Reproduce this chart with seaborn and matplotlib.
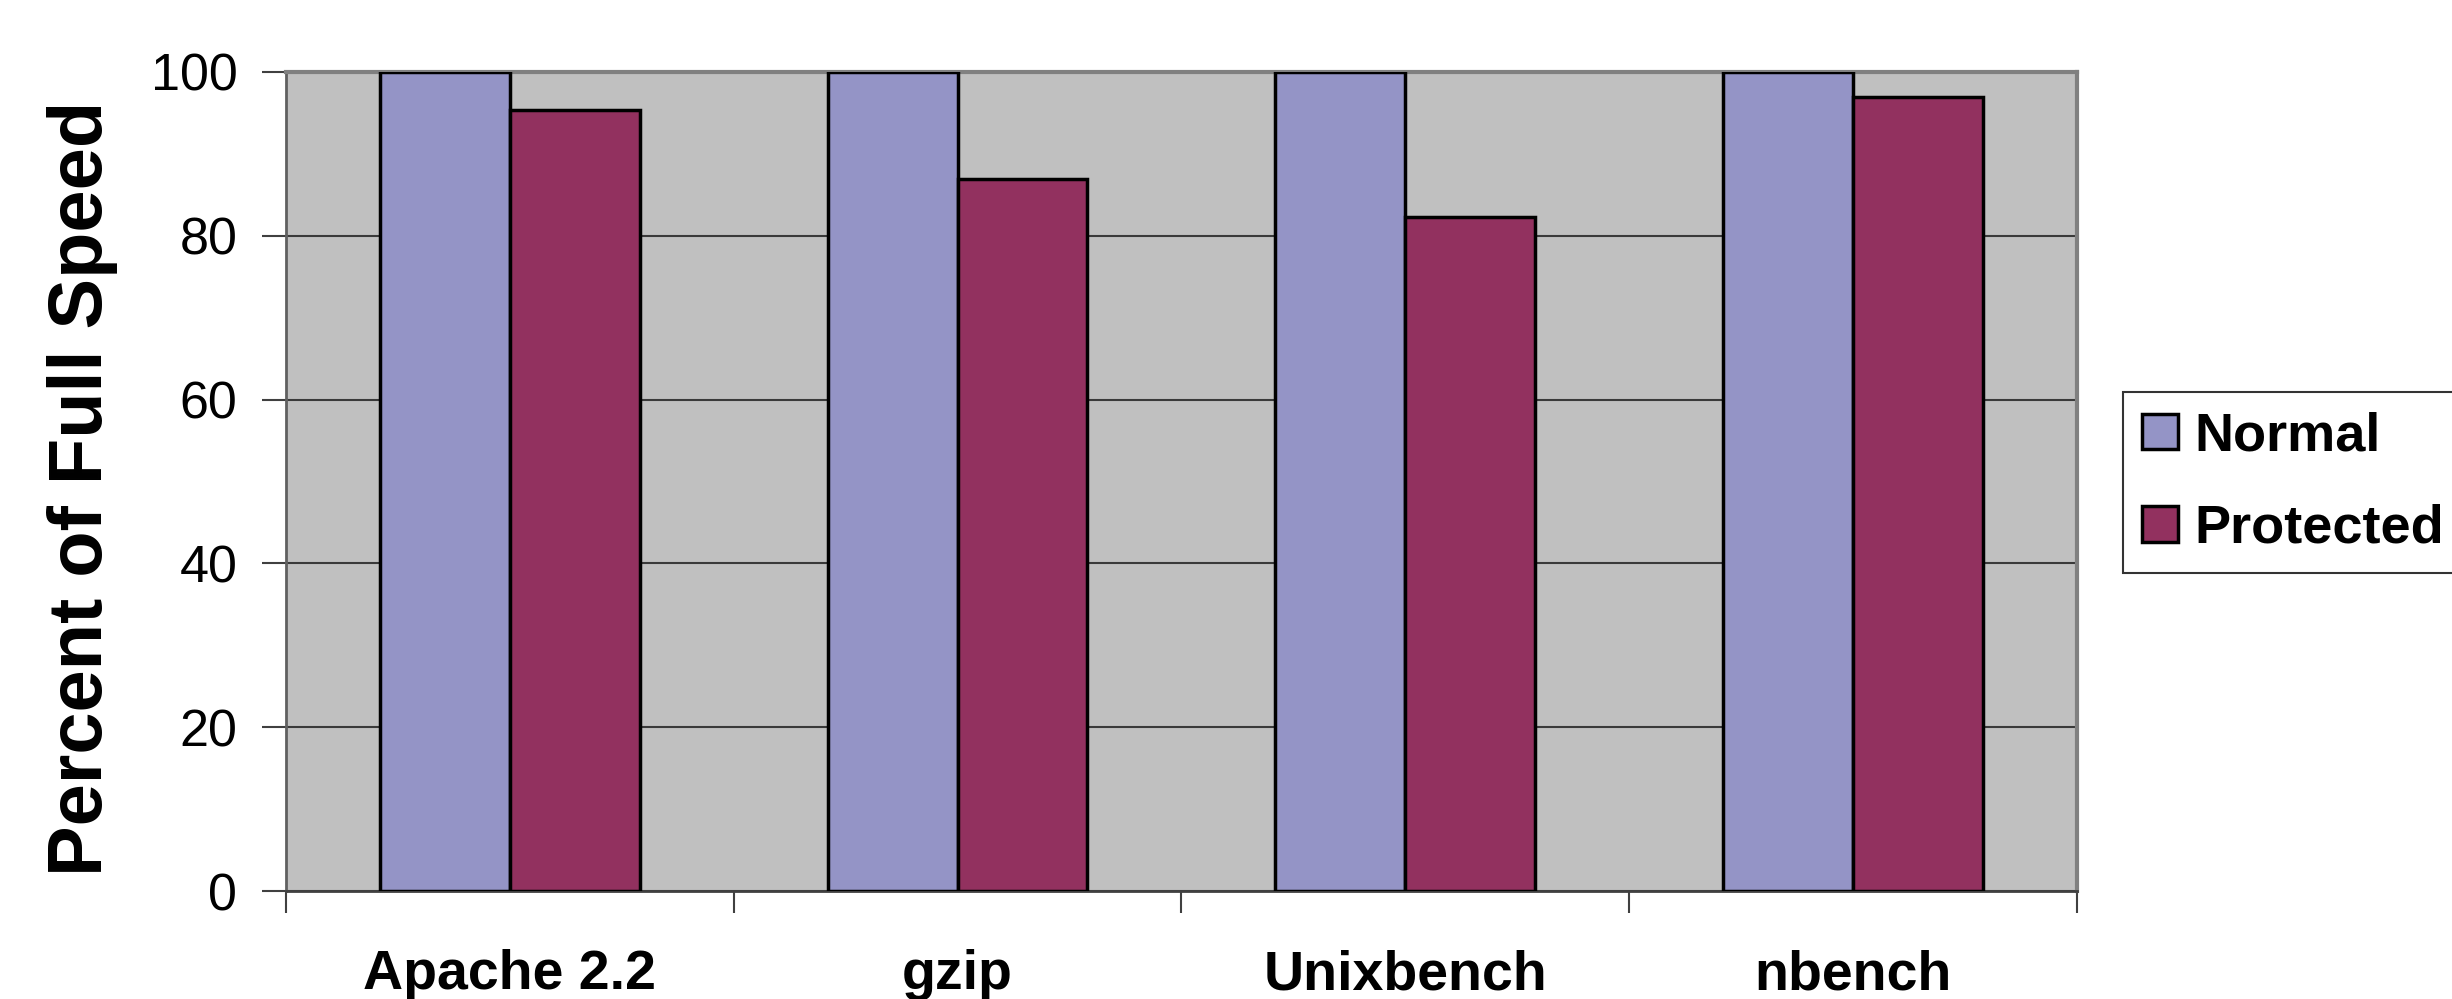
import numpy as np
import pandas as pd
import seaborn as sns
import matplotlib.pyplot as plt
from matplotlib.ticker import FixedLocator

sns.set_theme(style="white")
plt.rcParams['font.family'] = ['Liberation Sans', 'DejaVu Sans']
plt.rcParams['text.color'] = 'black'

# data
benchmarks = ["Apache 2.2", "gzip", "Unixbench", "nbench"]
normal = [100, 100, 100, 100]
protected = [95.3, 86.9, 82.3, 96.9]
series = ["Normal", "Protected"]
colors = ["#9494C6", "#92315F"]

df = pd.DataFrame({
    "benchmark": benchmarks * 2,
    "value": normal + protected,
    "config": [series[0]] * len(benchmarks) + [series[1]] * len(benchmarks),
})

fig = plt.figure(figsize=(24.52, 9.99), dpi=100)
ax = fig.add_axes([0.1166, 0.108, 0.7304, 0.820])
ax.set_facecolor("#C0C0C0")

sns.barplot(data=df, x="benchmark", y="value", hue="config", palette=colors,
            width=0.58, edgecolor="black", linewidth=2.5, saturation=1,
            ax=ax, zorder=3)

ax.set_ylim(0, 100)
ax.set_xlim(-0.5, 3.5)
ax.set_yticks([0, 20, 40, 60, 80, 100])
ax.yaxis.grid(True, color="#3a3a3a", lw=1.5, zorder=0)
ax.set_axisbelow(True)
ax.tick_params(axis="y", labelsize=37.5, length=17, width=1.5, color="#404040",
               labelcolor="black", pad=18, left=True, direction="out")

# category boundaries as major x ticks, names as minor ticks
ax.xaxis.set_major_locator(FixedLocator([-0.5, 0.5, 1.5, 2.5, 3.5]))
ax.set_xticklabels([])
ax.xaxis.set_minor_locator(FixedLocator(range(len(benchmarks))))
ax.set_xticklabels(benchmarks, minor=True, fontsize=40, fontweight="bold")
ax.tick_params(axis="x", which="major", length=16, width=1.5, color="#404040",
               bottom=True, direction="out")
ax.tick_params(axis="x", which="minor", length=0, pad=42, labelcolor="black")
ax.set_xlabel("")
ax.set_ylabel("")

for s in ["top", "right"]:
    ax.spines[s].set_color("#808080")
    ax.spines[s].set_linewidth(3)
ax.spines["left"].set_color("#606060")
ax.spines["left"].set_linewidth(2)
ax.spines["bottom"].set_color("#404040")
ax.spines["bottom"].set_linewidth(2)

fig.text(83 / 2452, 0.511, "Percent of Full Speed", rotation=90, fontsize=54.5,
         fontweight="bold", ha="center", va="center", color="black")

ax.get_legend().remove()
handles = [plt.Rectangle((0, 0), 1, 1, facecolor=c, edgecolor="black", lw=2.5) for c in colors]
leg = fig.legend(handles, series, loc="upper left", bbox_to_anchor=(0.8658, 0.6076),
                 prop={"size": 39, "weight": "bold"}, frameon=True, fancybox=False,
                 handlelength=0.66, handleheight=0.64, handletextpad=0.3,
                 labelspacing=0.78, borderpad=0.36, borderaxespad=0)
leg.get_frame().set_edgecolor("black")
leg.get_frame().set_linewidth(1.5)

plt.savefig("out.png", dpi=100)
